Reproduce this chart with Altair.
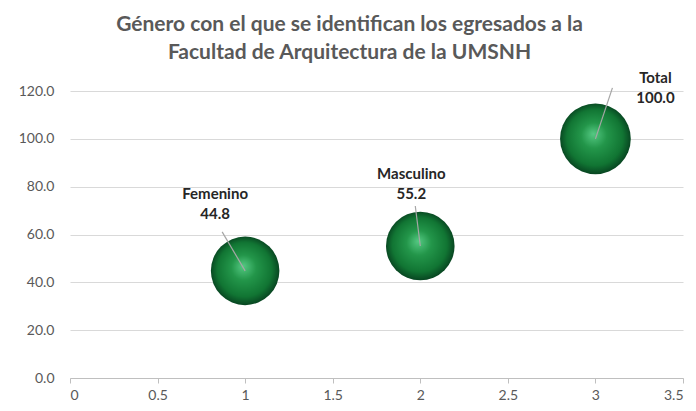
import altair as alt
import pandas as pd

# ---- data ----
categories = ["Femenino", "Masculino", "Total"]
x_values = [1, 2, 3]
percent = [44.8, 55.2, 100.0]
bubble_size = [4700, 4700, 5000]

# ---- style / annotation offsets (pixels) ----
label_dx = [-30, -9, 60]
label_dy = [-77, -72, -61]
leader_dx = [-23, -5, 17]
leader_dy = [-39, -40, -51]

W, H = 613, 287
X_DOM, Y_DOM = [0, 3.5], [0, 120]
px_x = W / (X_DOM[1] - X_DOM[0])
px_y = H / (Y_DOM[1] - Y_DOM[0])

df = pd.DataFrame({
    "cat": categories, "x": x_values, "y": percent, "size": bubble_size,
    "ldx": leader_dx, "ldy": leader_dy,
})
df["label"] = [f"{c}\n{v:.1f}" for c, v in zip(categories, percent)]

GRAY = "#595959"
FONT = "Lato"

xs = alt.Scale(domain=X_DOM, nice=False, zero=True)
ys = alt.Scale(domain=Y_DOM, nice=False)

base = alt.Chart(df)

leaders = base.transform_calculate(
    x2="datum.x + datum.ldx / %f" % px_x,
    y2="datum.y - datum.ldy / %f" % px_y,
).mark_rule(color="#a6a6a6", strokeWidth=1.2).encode(
    x=alt.X("x:Q", scale=xs),
    y=alt.Y("y:Q", scale=ys),
    x2="x2:Q",
    y2="y2:Q",
)

sphere = alt.Gradient(
    gradient="radial",
    x1=0.47, y1=0.43, r1=0.0,
    x2=0.5, y2=0.5, r2=0.55,
    stops=[
        alt.GradientStop(color="#55c983", offset=0.0),
        alt.GradientStop(color="#23964a", offset=0.33),
        alt.GradientStop(color="#117533", offset=0.72),
        alt.GradientStop(color="#04321a", offset=1.0),
    ],
)

bubbles = base.mark_circle(opacity=1, fill=sphere, stroke=None).encode(
    x=alt.X("x:Q", scale=xs,
            axis=alt.Axis(values=[0, 0.5, 1, 1.5, 2, 2.5, 3, 3.5],
                          labelExpr="datum.value", grid=False,
                          domainColor="#bfbfbf", tickColor="#bfbfbf",
                          tickSize=5, labelPadding=5, title=None)),
    y=alt.Y("y:Q", scale=ys,
            axis=alt.Axis(values=[0, 20, 40, 60, 80, 100, 120], format=".1f",
                          grid=True, gridColor="#d9d9d9", domain=False,
                          ticks=False, labelPadding=16, title=None)),
    size=alt.Size("size:Q", scale=None, legend=None),
)

layers = [bubbles, leaders]
for i, c in enumerate(categories):
    layers.append(
        base.transform_filter(alt.datum.cat == c).mark_text(
            font=FONT, fontSize=15, fontWeight="bold", color="#262626",
            lineBreak="\n", lineHeight=20, align="center", baseline="middle",
            dx=label_dx[i], dy=label_dy[i],
        ).encode(x=alt.X("x:Q", scale=xs), y=alt.Y("y:Q", scale=ys),
                 text="label:N")
    )

chart = alt.layer(*layers).properties(
    width=W, height=H,
    autosize=alt.AutoSizeParams(type="none"),
    padding={"left": 62, "top": 83, "right": 5, "bottom": 25},
    title=alt.TitleParams(
        ["Género con el que se identifican los egresados a la",
         "Facultad de Arquitectura de la UMSNH"],
        font=FONT, fontSize=21, fontWeight="bold", color=GRAY,
        lineHeight=28, anchor="middle", dx=-27, offset=8,
    ),
).configure_view(stroke=None).configure_axis(
    labelFont=FONT, labelFontSize=14, labelColor=GRAY,
)

chart.save("out.html", embed_options={"renderer": "svg", "actions": False})
